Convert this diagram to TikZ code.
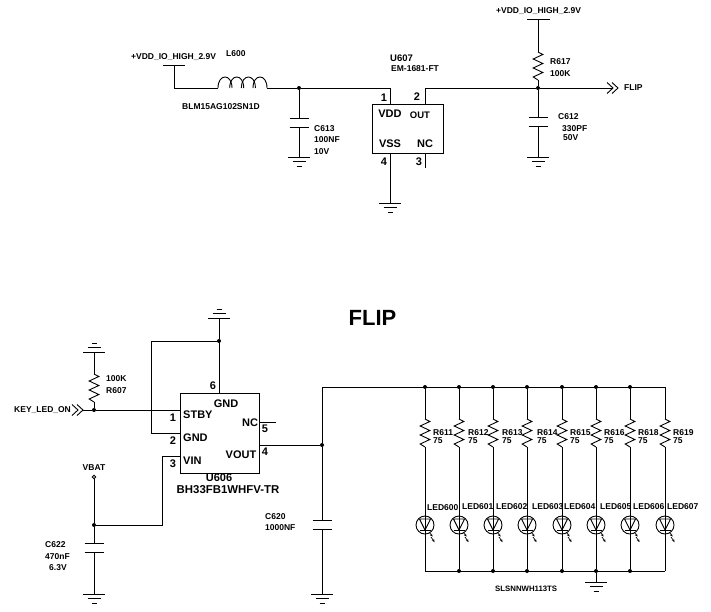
\documentclass[tikz,border=0pt]{standalone}
\usepackage{fontspec}
\setmainfont{Liberation Sans}
\usetikzlibrary{arrows.meta}
\tikzset{
  wire/.style = {line width = 0.9pt},
  lbl/.style = {anchor = west, inner sep = 0pt, font = \fontsize{8.5}{10}\selectfont\bfseries},
  lblc/.style = {inner sep = 0pt, font = \fontsize{8.5}{10}\selectfont\bfseries},
  chiplbl/.style = {anchor = west, inner sep = 0pt, font = \fontsize{11}{13}\selectfont\bfseries},
  pinnum/.style = {inner sep = 0pt, font = \fontsize{11}{13}\selectfont\bfseries},
  junction/.style = {circle, fill = black, inner sep = 0pt, minimum size = 4pt},
  chipbox/.style = {draw, line width = 0.9pt, inner sep = 0pt},
  gnd/.pic = {
    \draw[wire] (-11, 0) -- (11, 0);
    \draw[wire] (-6.5, 4.5) -- (6.5, 4.5);
    \draw[wire] (-2.5, 9) -- (2.5, 9);
  },
  res/.pic = {
    \draw[wire] (0, 0) -- (4.8, 2.5) -- (-4.8, 7) -- (4.8, 11.5) -- (-4.8, 16) -- (4.8, 20.5) -- (-4.8, 25) -- (0, 28);
  },
  cap/.pic = {
    \draw[wire] (-9.5, 0) -- (9.5, 0);
    \draw[wire] (-9.5, 9.5) -- (9.5, 9.5);
  },
  coil/.pic = {
    \draw[wire] (0, 0) .. controls (0, -14.7) and (14, -14.7) .. (14, 0);
    \draw[wire] (11.7, 0) .. controls (11.7, -14.7) and (25.7, -14.7) .. (25.7, 0);
    \draw[wire] (23.4, 0) .. controls (23.4, -14.7) and (37.4, -14.7) .. (37.4, 0);
    \draw[wire] (35, 0) .. controls (35, -14.7) and (49, -14.7) .. (49, 0);
  },
  port/.pic = {
    \draw[wire] (0, -5.5) -- (6, 0) -- (0, 5.5);
    \draw[wire] (5, -5.5) -- (11, 0) -- (5, 5.5);
  },
  led/.pic = {
    \draw[wire] (0, 0) circle [radius = 9];
    \draw[wire] (-5.5, -6) -- (5.5, -6) -- (0, 5) -- cycle;
    \draw[wire] (-5.5, 5.5) -- (5.5, 5.5);
    \draw[line width = 0.7pt, -{Stealth[length = 2.8pt, width = 2.6pt]}] (4.5, 7.5) -- (7.5, 11.5);
    \draw[line width = 0.7pt, -{Stealth[length = 2.8pt, width = 2.6pt]}] (6, 12) -- (9.5, 17);
  },
}
\begin{document}
\begin{tikzpicture}[x = 1pt, y = -1pt]
\useasboundingbox (0, 0) rectangle (711, 611);
\node[chipbox, minimum width = 71pt, minimum height = 49pt] (U607) at (407.5, 128.5) {};
\node[chipbox, minimum width = 79pt, minimum height = 80pt] (U606) at (219.5, 433) {};
\node[junction] (jC613) at (299, 88) {};
\node[junction] (jR617) at (538, 88) {};
\node[junction] (jGnd) at (219, 341) {};
\node[junction] (jKey) at (94, 410) {};
\node[junction] (jVbat) at (94, 525) {};
\node[junction] (jVout) at (322, 445) {};
\node[junction] (jT1) at (425, 387) {};
\node[junction] (jT2) at (459, 387) {};
\node[junction] (jT3) at (493, 387) {};
\node[junction] (jT4) at (527, 387) {};
\node[junction] (jT5) at (562, 387) {};
\node[junction] (jT6) at (596, 387) {};
\node[junction] (jT7) at (630, 387) {};
\node[junction] (jB2) at (459, 571) {};
\node[junction] (jB3) at (493, 571) {};
\node[junction] (jB4) at (527, 571) {};
\node[junction] (jB5) at (562, 571) {};
\node[junction] (jB6) at (596, 571) {};
\node[junction] (jB7) at (630, 571) {};
\node[circle, draw, line width = 0.8pt, inner sep = 0pt, minimum size = 3.6pt] (vbat) at (94, 477) {};
\coordinate (vddA) at (174, 65);
\coordinate (l600a) at (218, 88);
\coordinate (l600b) at (267, 88);
\coordinate (c613a) at (299, 118);
\coordinate (c613b) at (299, 127.5);
\coordinate (g613) at (299, 157);
\coordinate (p1) at (390, 104);
\coordinate (p2) at (425, 104);
\coordinate (p3) at (425, 153);
\coordinate (p3end) at (425, 168);
\coordinate (p4) at (390, 153);
\coordinate (g607) at (390, 203);
\coordinate (vddB) at (538, 19);
\coordinate (r617a) at (538, 52);
\coordinate (r617b) at (538, 80);
\coordinate (c612a) at (538, 117);
\coordinate (c612b) at (538, 126.5);
\coordinate (g612) at (538, 157);
\coordinate (flipport) at (607, 88);
\coordinate (flipend) at (613, 88);
\coordinate (g606) at (219, 318);
\coordinate (p6) at (219, 393);
\coordinate (p2b) at (180, 433);
\coordinate (p1b) at (180, 410);
\coordinate (p3b) at (180, 456);
\coordinate (p5b) at (259, 422);
\coordinate (p5end) at (276, 422);
\coordinate (p4b) at (259, 445);
\coordinate (g607r) at (94, 352);
\coordinate (r607a) at (94, 374);
\coordinate (r607b) at (94, 402);
\coordinate (keyport) at (72, 410);
\coordinate (keyend) at (83, 410);
\coordinate (c622a) at (94, 543);
\coordinate (c622b) at (94, 552.5);
\coordinate (g622) at (94, 594);
\coordinate (c620a) at (322, 520);
\coordinate (c620b) at (322, 529.5);
\coordinate (g620) at (322, 594);
\coordinate (railL) at (322, 387);
\coordinate (railR) at (665, 387);
\coordinate (botL) at (425, 571);
\coordinate (botR) at (665, 571);
\coordinate (gLed) at (596, 582);
\draw[wire] (163, 65) -- (185, 65);
\draw[wire] (527, 19) -- (550, 19);
\draw[wire] (vddA) |- (l600a);
\draw[wire] (l600b) -- (jC613);
\draw[wire] (jC613) -- (c613a);
\draw[wire] (c613b) -- (g613);
\draw[wire] (jC613) -| (p1);
\draw[wire] (p2) |- (jR617);
\draw[wire] (p3) -- (p3end);
\draw[wire] (p4) -- (g607);
\draw[wire] (vddB) -- (r617a);
\draw[wire] (r617b) -- (jR617);
\draw[wire] (jR617) -- (c612a);
\draw[wire] (c612b) -- (g612);
\draw[wire] (jR617) -- (flipend);
\draw[wire] (g606) -- (jGnd);
\draw[wire] (jGnd) -- (p6);
\draw[wire] (jGnd) -| (151, 433) -- (p2b);
\draw[wire] (keyend) -- (jKey);
\draw[wire] (jKey) -- (p1b);
\draw[wire] (g607r) -- (r607a);
\draw[wire] (r607b) -- (jKey);
\draw[wire] (vbat) -- (jVbat);
\draw[wire] (jVbat) -- (c622a);
\draw[wire] (c622b) -- (g622);
\draw[wire] (jVbat) -| (162, 456) -- (p3b);
\draw[wire] (p5b) -- (p5end);
\draw[wire] (p4b) -- (jVout);
\draw[wire] (jVout) -- (railL);
\draw[wire] (railL) -- (railR);
\draw[wire] (jVout) -- (c620a);
\draw[wire] (c620b) -- (g620);
\draw[wire] (jT1) -- (425, 419);
\draw[wire] (jT2) -- (459, 419);
\draw[wire] (jT3) -- (493, 419);
\draw[wire] (jT4) -- (527, 419);
\draw[wire] (jT5) -- (562, 419);
\draw[wire] (jT6) -- (596, 419);
\draw[wire] (jT7) -- (630, 419);
\draw[wire] (railR) -- (665, 419);
\draw[wire] (425, 447) -- (botL);
\draw[wire] (459, 447) -- (jB2);
\draw[wire] (493, 447) -- (jB3);
\draw[wire] (527, 447) -- (jB4);
\draw[wire] (562, 447) -- (jB5);
\draw[wire] (596, 447) -- (jB6);
\draw[wire] (630, 447) -- (jB7);
\draw[wire] (665, 447) -- (botR);
\draw[wire] (botL) -- (botR);
\draw[wire] (jB6) -- (gLed);
\pic at (l600a) {coil};
\pic at (c613a) {cap};
\pic at (g613) {gnd};
\pic at (g607) {gnd};
\pic at (r617a) {res};
\pic at (c612a) {cap};
\pic at (g612) {gnd};
\pic at (flipport) {port};
\pic[yscale = -1] at (g606) {gnd};
\pic[yscale = -1] at (g607r) {gnd};
\pic at (r607a) {res};
\pic at (keyport) {port};
\pic at (c622a) {cap};
\pic at (g622) {gnd};
\pic at (c620a) {cap};
\pic at (g620) {gnd};
\pic at (gLed) {gnd};
\pic at (425, 419) {res};
\pic at (459, 419) {res};
\pic at (493, 419) {res};
\pic at (527, 419) {res};
\pic at (562, 419) {res};
\pic at (596, 419) {res};
\pic at (630, 419) {res};
\pic at (665, 419) {res};
\pic at (425, 525) {led};
\pic at (459, 525) {led};
\pic at (493, 525) {led};
\pic at (527, 525) {led};
\pic at (562, 525) {led};
\pic at (596, 525) {led};
\pic at (630, 525) {led};
\pic at (665, 525) {led};
\node[lbl] (tVddA) at (131, 57) {+VDD\_IO\_HIGH\_2.9V};
\node[lbl] (tL600) at (226, 54) {L600};
\node[lbl] (tBlm) at (182, 107) {BLM15AG102SN1D};
\node[lbl] (tC613) at (314, 129) {C613};
\node[lbl] (tC613v) at (314, 140) {100NF};
\node[lbl] (tC613w) at (314, 152) {10V};
\node[lbl, font = \fontsize{9.5}{11}\selectfont\bfseries] (tU607) at (390, 58) {U607};
\node[lbl] (tEm) at (391, 69) {EM-1681-FT};
\node[pinnum] (n1) at (384, 98) {1};
\node[pinnum] (n2) at (417, 97) {2};
\node[pinnum] (n3) at (419, 162) {3};
\node[pinnum] (n4) at (384, 162) {4};
\node[pinnum] (tVdd) at (390, 114) {VDD};
\node[pinnum] (tVss) at (390, 144) {VSS};
\node[pinnum, font = \fontsize{9.5}{11}\selectfont\bfseries] (tOut) at (420, 115) {OUT};
\node[pinnum] (tNc) at (425, 144) {NC};
\node[lbl] (tVddB) at (496, 11) {+VDD\_IO\_HIGH\_2.9V};
\node[lbl] (tR617) at (550, 62) {R617};
\node[lbl] (tR617v) at (550, 74) {100K};
\node[lbl] (tC612) at (558, 117) {C612};
\node[lbl] (tC612v) at (562, 129) {330PF};
\node[lbl] (tC612w) at (563, 138) {50V};
\node[lbl] (tFlipPort) at (624, 88) {FLIP};
\node[inner sep = 0pt, font = \fontsize{22}{24}\selectfont\bfseries] (tTitle) at (372.5, 318) {FLIP};
\node[lbl] (tKey) at (14, 410) {KEY\_LED\_ON};
\node[lbl] (tR607v) at (106, 379) {100K};
\node[lbl] (tR607) at (106, 391) {R607};
\node[lblc] (tVbat) at (94, 468) {VBAT};
\node[lbl] (tC622) at (45, 545) {C622};
\node[lbl] (tC622v) at (45, 557) {470nF};
\node[lbl] (tC622w) at (49, 568) {6.3V};
\node[lbl] (tC620) at (265, 517) {C620};
\node[lbl] (tC620v) at (265, 528) {1000NF};
\node[pinnum] (m6) at (213, 386) {6};
\node[pinnum] (m1) at (173, 418) {1};
\node[pinnum] (m2) at (173, 441) {2};
\node[pinnum] (m3) at (173, 464) {3};
\node[pinnum] (m5) at (265, 429) {5};
\node[pinnum] (m4) at (265, 452) {4};
\node[pinnum] (tGndT) at (226, 404) {GND};
\node[chiplbl] (tStby) at (183, 415) {STBY};
\node[chiplbl] (tGndL) at (183, 438) {GND};
\node[chiplbl] (tVin) at (183, 461) {VIN};
\node[pinnum] (tNcB) at (250, 423) {NC};
\node[pinnum] (tVout) at (241, 455) {VOUT};
\node[pinnum] (tU606) at (219, 478) {U606};
\node[pinnum, font = \fontsize{11.4}{14}\selectfont\bfseries] (tBh) at (228, 490) {BH33FB1WHFV-TR};
\node[lbl] (tR611) at (433, 433) {R611};
\node[lbl] (tR612) at (468, 433) {R612};
\node[lbl] (tR613) at (502, 433) {R613};
\node[lbl] (tR614) at (537, 433) {R614};
\node[lbl] (tR615) at (570, 433) {R615};
\node[lbl] (tR616) at (604, 433) {R616};
\node[lbl] (tR618) at (638, 433) {R618};
\node[lbl] (tR619) at (673, 433) {R619};
\node[lbl] (v611) at (433, 441) {75};
\node[lbl] (v612) at (468, 441) {75};
\node[lbl] (v613) at (502, 441) {75};
\node[lbl] (v614) at (537, 441) {75};
\node[lbl] (v615) at (570, 441) {75};
\node[lbl] (v616) at (604, 441) {75};
\node[lbl] (v618) at (638, 441) {75};
\node[lbl] (v619) at (673, 441) {75};
\node[lbl] (tLed600) at (427, 508) {LED600};
\node[lbl] (tLed601) at (462, 507) {LED601};
\node[lbl] (tLed602) at (496, 507) {LED602};
\node[lbl] (tLed603) at (532, 507) {LED603};
\node[lbl] (tLed604) at (564, 507) {LED604};
\node[lbl] (tLed605) at (600, 507) {LED605};
\node[lbl] (tLed606) at (633, 507) {LED606};
\node[lbl] (tLed607) at (667, 507) {LED607};
\node[lbl, font = \fontsize{7.8}{9}\selectfont\bfseries] (tSls) at (495, 589) {SLSNNWH113TS};
\end{tikzpicture}
\end{document}
